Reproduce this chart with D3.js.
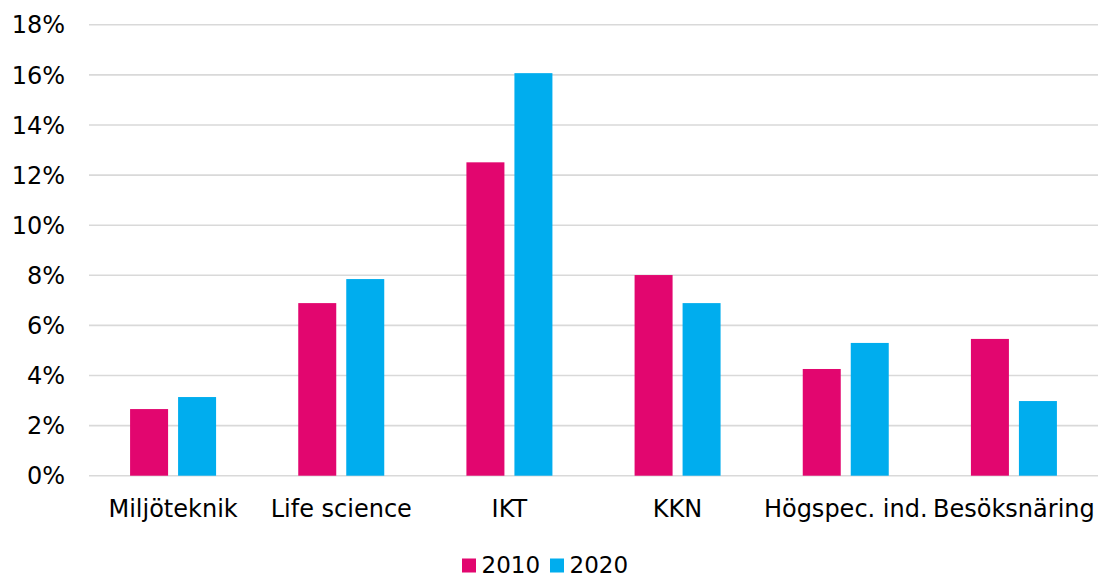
<!DOCTYPE html>
<html>
<head>
<meta charset="utf-8">
<script src="https://cdn.jsdelivr.net/npm/d3@7"></script>
<style>
  body { margin: 0; background: #fff; }
  text { font-family: "DejaVu Sans", Verdana, sans-serif; fill: #000; }
</style>
</head>
<body>
<div id="chart"></div>
<script>
/** Data */
const categories = ["Miljöteknik", "Life science", "IKT", "KKN", "Högspec. ind.", "Besöksnäring"];
const series = ["2010", "2020"];
const values2010 = [0.0266, 0.0689, 0.1251, 0.0801, 0.0426, 0.0546];
const values2020 = [0.0314, 0.0785, 0.1607, 0.0689, 0.0530, 0.0298];
const yTicks = [0, 0.02, 0.04, 0.06, 0.08, 0.10, 0.12, 0.14, 0.16, 0.18];
const colors = ["#e2066f", "#00adee"];

/** Layout */
const width = 1099;
const height = 577;
const plotLeft = 89, plotRight = 1098, plotTop = 24.8, plotBottom = 475.7;
const fontSize = 24;
const legendFontSize = 23;

const svg = d3.select("#chart").append("svg")
  .attr("width", width)
  .attr("height", height);

const x = d3.scaleBand().domain(categories).range([plotLeft, plotRight]).padding(0);
const groupWidth = 86;
const xSub = d3.scaleBand().domain(series)
  .range([(x.bandwidth() - groupWidth) / 2, (x.bandwidth() + groupWidth) / 2])
  .paddingInner(2 - groupWidth / 48);
const y = d3.scaleLinear().domain([0, 0.18]).range([plotBottom, plotTop]);
const color = d3.scaleOrdinal().domain(series).range(colors);

/** Gridlines */
svg.append("g")
  .selectAll("line")
  .data(yTicks)
  .join("line")
  .attr("x1", plotLeft)
  .attr("x2", plotRight)
  .attr("y1", (d) => y(d))
  .attr("y2", (d) => y(d))
  .attr("stroke", "#d9d9d9")
  .attr("stroke-width", 1.6);

/** Y tick labels */
svg.append("g")
  .selectAll("text")
  .data(yTicks)
  .join("text")
  .attr("x", 65)
  .attr("y", (d) => y(d))
  .attr("dy", "0.36em")
  .attr("text-anchor", "end")
  .style("font-size", fontSize + "px")
  .text((d) => d3.format(".0%")(d));

/** Bars */
const rows = categories.map((c, i) => ({ cat: c, vals: [values2010[i], values2020[i]] }));
const groups = svg.append("g")
  .selectAll("g")
  .data(rows)
  .join("g")
  .attr("transform", (d) => `translate(${x(d.cat)},0)`);

groups.selectAll("rect")
  .data((d) => series.map((s, j) => ({ s, v: d.vals[j] })))
  .join("rect")
  .attr("x", (d) => xSub(d.s))
  .attr("width", xSub.bandwidth())
  .attr("y", (d) => y(d.v))
  .attr("height", (d) => y(0) - y(d.v))
  .attr("fill", (d) => color(d.s));

/** Category labels */
svg.append("g")
  .selectAll("text")
  .data(categories)
  .join("text")
  .attr("x", (d) => x(d) + x.bandwidth() / 2)
  .attr("y", 517)
  .attr("text-anchor", "middle")
  .style("font-size", fontSize + "px")
  .text((d) => d);

/** Legend */
const legendX = [462, 550];
const legend = svg.append("g")
  .selectAll("g")
  .data(series)
  .join("g")
  .attr("transform", (d, i) => `translate(${legendX[i]},0)`);

legend.append("rect")
  .attr("x", 0)
  .attr("y", 558.5)
  .attr("width", 14)
  .attr("height", 14)
  .attr("fill", (d) => color(d));

legend.append("text")
  .attr("x", 19.5)
  .attr("y", 572.5)
  .style("font-size", legendFontSize + "px")
  .text((d) => d);
</script>
</body>
</html>
